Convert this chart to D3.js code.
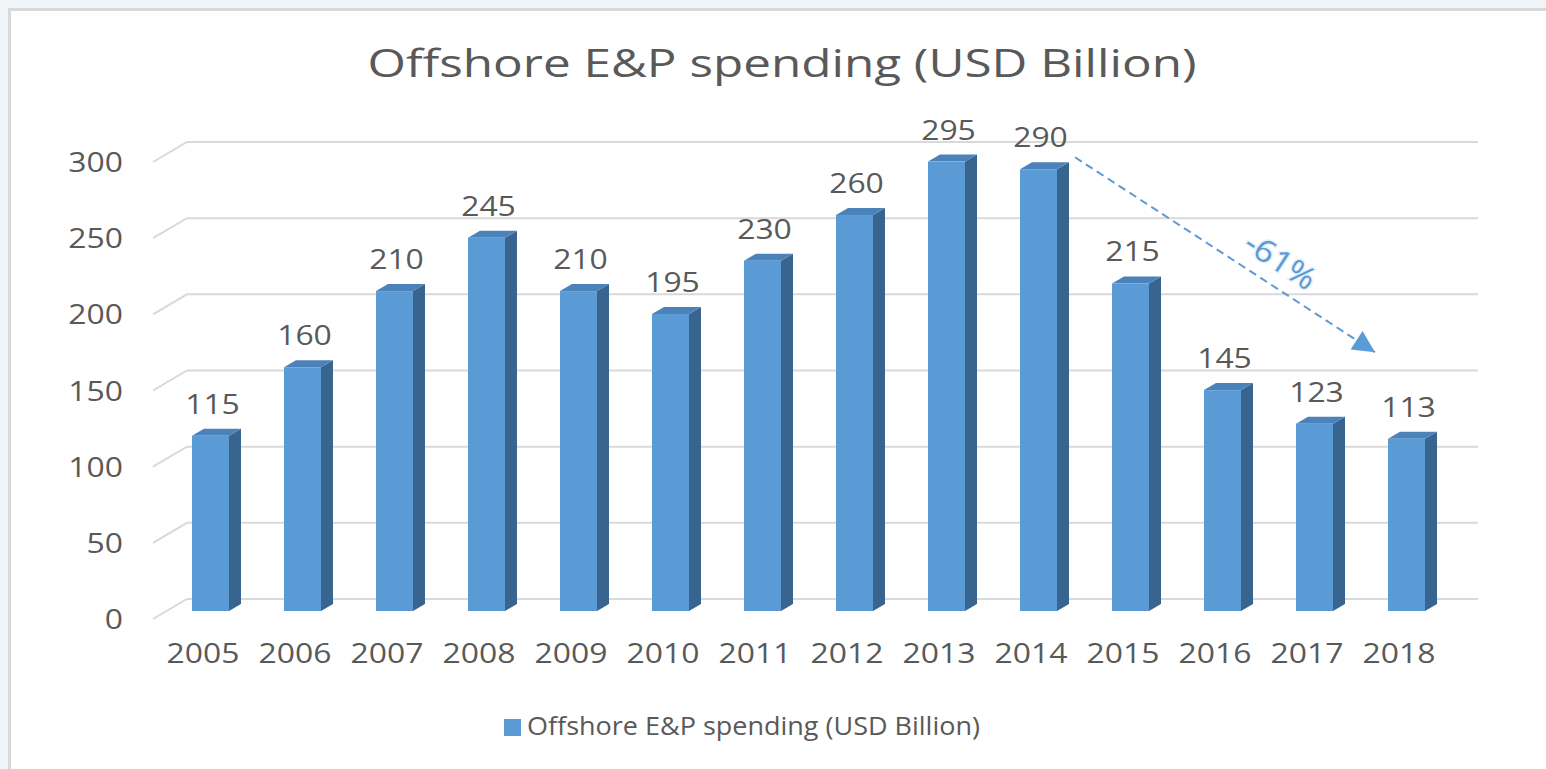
<!DOCTYPE html>
<html>
<head>
<meta charset="utf-8">
<script src="https://cdn.jsdelivr.net/npm/d3@7"></script>
<style>
  body { margin: 0; background: #f0f5f9; }
  text { font-family: "Open Sans", sans-serif; fill: #595959; }
</style>
</head>
<body>
<div id="chart"></div>
<script>
const years = ["2005", "2006", "2007", "2008", "2009", "2010", "2011",
               "2012", "2013", "2014", "2015", "2016", "2017", "2018"];
const spending = [115, 160, 210, 245, 210, 195, 230, 260, 295, 290, 215, 145, 123, 113];
const yTicks = [0, 50, 100, 150, 200, 250, 300];
const titleText = "Offshore E&P spending (USD Billion)";
const seriesName = "Offshore E&P spending (USD Billion)";
const changeLabel = "-61%";
const changeFrom = {year: "2014", value: 290};
const changeTo = {year: "2018", value: 162};

const W = 1546, H = 769;
const blue = "#5b9bd5", sideColor = "#386490", topColor = "#4b82ba";
const stretch = 1.18;           // the picture's text is a little wide
const depth = {x: 12, y: -7};   // bar depth
const floor = {x: -34, y: 20};  // front edge of the floor vs the back wall
const frontY = 12;              // bars stand in front of the back wall

const svg = d3.select("#chart").append("svg")
  .attr("width", W).attr("height", H);

svg.append("rect").attr("width", W).attr("height", H).attr("fill", "#f0f5f9");
svg.append("rect")
  .attr("x", 9.5).attr("y", 9.5)
  .attr("width", W + 20).attr("height", H + 20)
  .attr("fill", "#fff")
  .attr("stroke", "#d9d9d9").attr("stroke-width", 3);

const y = d3.scaleLinear().domain([0, 300]).range([599, 142]);
const x = d3.scaleBand().domain(years).range([192, 1425])
  .paddingInner(0.598).paddingOuter(0);
const bw = x.bandwidth();
const wallLeft = 187, wallRight = 1478;

// title
svg.append("text")
  .attr("x", W / 2 + 9).attr("y", 77)
  .attr("text-anchor", "middle")
  .attr("font-size", 39)
  .attr("textLength", 829).attr("lengthAdjust", "spacingAndGlyphs")
  .text(titleText);

// gridlines on the back wall plus the left floor edge
const grid = svg.append("g").attr("stroke", "#d9d9d9").attr("stroke-width", 2).attr("fill", "none");
grid.selectAll("path")
  .data(yTicks)
  .join("path")
  .attr("d", t => `M${wallLeft + floor.x},${y(t) + floor.y}L${wallLeft},${y(t)}H${wallRight}`);

// y labels
svg.append("g").selectAll("text")
  .data(yTicks)
  .join("text")
  .attr("transform", t => `translate(123,${y(t) + floor.y + 10}) scale(${stretch},1)`)
  .attr("text-anchor", "end")
  .attr("font-size", 27)
  .text(t => t);

// bars
const bars = svg.append("g").selectAll("g")
  .data(years.map((yr, i) => ({year: yr, value: spending[i]})))
  .join("g");

bars.append("path")   // side
  .attr("fill", sideColor)
  .attr("d", d => {
    const x1 = x(d.year) + bw, yt = y(d.value) + frontY, yb = y(0) + frontY;
    return `M${x1},${yt}l${depth.x},${depth.y}V${yb + depth.y}l${-depth.x},${-depth.y}Z`;
  });
bars.append("path")   // top
  .attr("fill", topColor)
  .attr("d", d => {
    const x0 = x(d.year), yt = y(d.value) + frontY;
    return `M${x0},${yt}l${depth.x},${depth.y}h${bw}l${-depth.x},${-depth.y}Z`;
  });
bars.append("rect")   // front
  .attr("fill", blue)
  .attr("x", d => x(d.year))
  .attr("y", d => y(d.value) + frontY)
  .attr("width", bw)
  .attr("height", d => y(0) - y(d.value));

// value labels
bars.append("text")
  .attr("transform", d => `translate(${x(d.year) + bw / 2 + 2},${y(d.value) + frontY - 22}) scale(${stretch},1)`)
  .attr("text-anchor", "middle")
  .attr("font-size", 27)
  .text(d => d.value);

// year labels
svg.append("g").selectAll("text")
  .data(years)
  .join("text")
  .attr("transform", d => `translate(${x(d) + bw / 2 - 7.5},663) scale(${stretch},1)`)
  .attr("text-anchor", "middle")
  .attr("font-size", 27)
  .text(d => d);

// -61% arrow
svg.append("defs").append("marker")
  .attr("id", "head")
  .attr("viewBox", "0 0 10 10")
  .attr("refX", 10).attr("refY", 5)
  .attr("markerWidth", 28).attr("markerHeight", 22)
  .attr("markerUnits", "userSpaceOnUse")
  .attr("orient", "auto")
  .append("path").attr("d", "M0,0L10,5L0,10Z").attr("fill", blue);

const ax1 = x(changeFrom.year) + bw + 18, ay1 = y(changeFrom.value);
const ax2 = x(changeTo.year) - 13, ay2 = y(changeTo.value);
svg.append("line")
  .attr("x1", ax1).attr("y1", ay1)
  .attr("x2", ax2).attr("y2", ay2)
  .attr("stroke", blue).attr("stroke-width", 2)
  .attr("stroke-dasharray", "8,5")
  .attr("marker-end", "url(#head)");

const ang = Math.atan2(ay2 - ay1, ax2 - ax1);
const mx = (ax1 + ax2) / 2 + 50 * Math.cos(ang) + 26 * Math.sin(ang);
const my = (ay1 + ay2) / 2 + 50 * Math.sin(ang) - 26 * Math.cos(ang);
svg.append("text")
  .attr("transform", `translate(${mx},${my}) rotate(${ang * 180 / Math.PI}) scale(1.1,1)`)
  .attr("text-anchor", "middle")
  .attr("dominant-baseline", "central")
  .attr("font-size", 31)
  .style("fill", blue)
  .style("paint-order", "stroke")
  .style("stroke", "rgba(91,155,213,0.15)")
  .style("stroke-width", 3)
  .text(changeLabel);

// legend
const legend = svg.append("g").attr("transform", "translate(504,719)");
legend.append("rect").attr("width", 17).attr("height", 17).attr("fill", blue);
legend.append("text")
  .attr("x", 23).attr("y", 16)
  .attr("font-size", 25)
  .attr("textLength", 453).attr("lengthAdjust", "spacingAndGlyphs")
  .text(seriesName);
</script>
</body>
</html>
